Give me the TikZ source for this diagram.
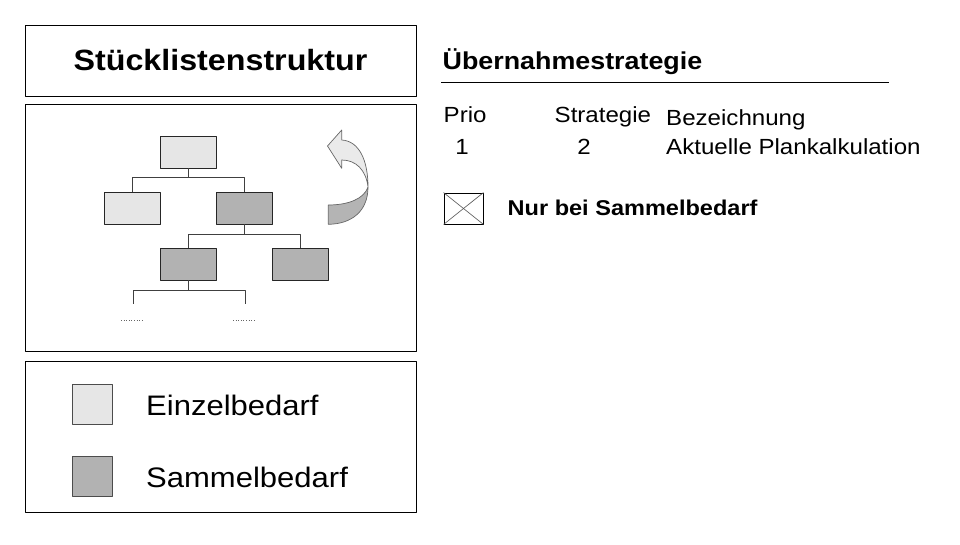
\documentclass[tikz,border=0pt]{standalone}
\usepackage{fontspec}
\setmainfont{Liberation Sans}[FakeStretch=1.1]
\definecolor{einzel}{RGB}{230,230,230}
\definecolor{sammel}{RGB}{178,178,178}
\definecolor{pfeilhell}{RGB}{234,234,234}
\definecolor{pfeildunkel}{RGB}{180,180,180}
\begin{document}
\begin{tikzpicture}[x=1pt, y=-1pt, line join=round,
    frame/.style={draw=black, line width=0.9pt},
    teil/.style={draw=black!85, line width=0.8pt, minimum width=56pt, minimum height=32pt, inner sep=0pt},
    link/.style={draw=black!75, line width=0.8pt},
    marker/.style={draw=black!70, line width=0.8pt, minimum width=40pt, minimum height=40pt, inner sep=0pt},
    lbl/.style={inner sep=0pt, font=\fontsize{21.9}{24}\selectfont},
    kopf/.style={inner sep=0pt, font=\bfseries\fontsize{24.4}{28}\selectfont},
    gross/.style={inner sep=0pt, font=\fontsize{28.2}{32}\selectfont}]
  \useasboundingbox (0,0) rectangle (960,544);
  % linke Seite: Titel, Struktur, Legende
  \node[frame, minimum width=391pt, minimum height=71pt, inner sep=0pt,
        font=\bfseries\fontsize{29.3}{34}\selectfont] (titel) at (220.5,60.5) {Stücklistenstruktur};
  \draw[frame] (25,104) rectangle (416,351);
  \draw[frame] (25,361) rectangle (416,512);
  % Baum
  \node[teil, fill=einzel] (top) at (188,152) {};
  \node[teil, fill=einzel] (l2a) at (132.5,208) {};
  \node[teil, fill=sammel] (l2b) at (244.5,208) {};
  \node[teil, fill=sammel] (l3a) at (188,264) {};
  \node[teil, fill=sammel] (l3b) at (300,264) {};
  \coordinate (leafa) at (133,304);
  \coordinate (leafb) at (245,304);
  \draw[link] (top.south) -- ++(0,9) coordinate (j1);
  \draw[link] (j1) -| (l2a.north);
  \draw[link] (j1) -| (l2b.north);
  \draw[link] (l2b.south) -- ++(0,10) coordinate (j2);
  \draw[link] (j2) -| (l3a.north);
  \draw[link] (j2) -| (l3b.north);
  \draw[link] (l3a.south) -- ++(0,10) coordinate (j3);
  \draw[link] (j3) -| (leafa);
  \draw[link] (j3) -| (leafb);
  \draw[black!60, line width=0.6pt, dotted] (121,320.5) -- (144,320.5);
  \draw[black!60, line width=0.6pt, dotted] (233,320.5) -- (256,320.5);
  % Pfeil
  \coordinate (twist) at (368,187);
  \filldraw[fill=pfeilhell, draw=black!60, line width=0.7pt]
    (327.5,146) -- (341.7,130) -- (341.7,140)
    .. controls (359,141) and (368,160) .. (twist)
    .. controls (366,170) and (356,160) .. (341.7,160)
    -- (341.7,168.3) -- cycle;
  \filldraw[fill=pfeildunkel, draw=black!60, line width=0.7pt]
    (twist) .. controls (368,211) and (352,224) .. (328.3,224.3)
    -- (328.3,205) .. controls (348,205) and (364,199) .. (twist);
  % Legende
  \node[marker, fill=einzel] (mEinzel) at (92,404) {};
  \node[marker, fill=sammel] (mSammel) at (92,476) {};
  \node[gross, anchor=base west] (tEinzel) at (146,415) {Einzelbedarf};
  \node[gross, anchor=base west] (tSammel) at (146,487) {Sammelbedarf};
  % rechte Seite: Übernahmestrategie
  \node[kopf, anchor=base west] (ueber) at (442.5,69) {Übernahmestrategie};
  \coordinate (ulA) at (441,82.5);
  \coordinate (ulB) at (889,82.5);
  \draw[black, line width=0.8pt] (ulA) -- (ulB);
  \node[lbl, anchor=base west] (prio) at (443.5,122) {Prio};
  \node[lbl, anchor=base west] (strat) at (554.5,122) {Strategie};
  \node[lbl, anchor=base west] (bez) at (666,125) {Bezeichnung};
  \node[lbl, anchor=base] (prioWert) at (462,154) {1};
  \node[lbl, anchor=base] (stratWert) at (584,154) {2};
  \node[lbl, anchor=base west] (bezWert) at (666,154) {Aktuelle Plankalkulation};
  \node[draw=black, line width=0.8pt, minimum width=39pt, minimum height=31pt, inner sep=0pt] (kreuz) at (463.5,208.5) {};
  \draw[black!70, line width=0.6pt] (kreuz.north west) -- (kreuz.south east);
  \draw[black!70, line width=0.6pt] (kreuz.south west) -- (kreuz.north east);
  \node[inner sep=0pt, anchor=base west, font=\bfseries\fontsize{21.4}{24}\selectfont] (nur) at (507.5,215) {Nur bei Sammelbedarf};
\end{tikzpicture}
\end{document}
